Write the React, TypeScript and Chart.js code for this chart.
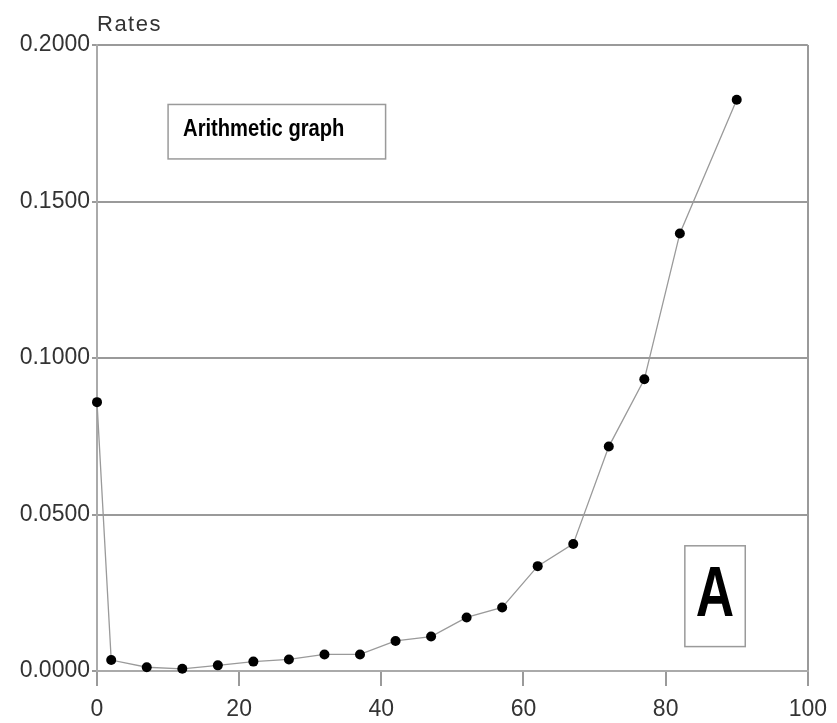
import React, { useEffect, useRef } from "react";
import { Chart, registerables } from "chart.js";

Chart.register(...registerables);

const ages = [0, 2, 7, 12, 17, 22, 27, 32, 37, 42, 47, 52, 57, 62, 67, 72, 77, 82, 90];
const rates = [
  0.0859, 0.0035, 0.0012, 0.0007, 0.0018, 0.003, 0.0037, 0.0053, 0.0053, 0.0096,
  0.011, 0.0171, 0.0203, 0.0335, 0.0406, 0.0717, 0.0932, 0.1398, 0.1825,
];
const xTicks = [0, 20, 40, 60, 80, 100];
const yTicks = [0, 0.05, 0.1, 0.15, 0.2];
const yAxisTitle = "Rates";
const noteText = "Arithmetic graph";
const panelLetter = "A";

const FONT = "'Liberation Sans', Arial, Helvetica, sans-serif";

const annotationPlugin = {
  id: "annotations",
  afterDraw(chart: any) {
    const { ctx, chartArea, scales } = chart;
    const xs = scales.x;
    const ys = scales.y;
    ctx.save();
    // Axis title
    ctx.fillStyle = "#333";
    ctx.font = `22px ${FONT}`;
    (ctx as any).letterSpacing = "1.5px";
    ctx.textAlign = "left";
    ctx.textBaseline = "middle";
    ctx.fillText(yAxisTitle, chartArea.left, 25);
    (ctx as any).letterSpacing = "0px";

    // Note box
    const bx1 = xs.getPixelForValue(10.0);
    const bx2 = xs.getPixelForValue(40.6);
    const by1 = ys.getPixelForValue(0.181);
    const by2 = ys.getPixelForValue(0.1636);
    ctx.fillStyle = "#fff";
    ctx.fillRect(bx1, by1, bx2 - bx1, by2 - by1);
    ctx.strokeStyle = "#9a9a9a";
    ctx.lineWidth = 1.5;
    ctx.strokeRect(bx1, by1, bx2 - bx1, by2 - by1);
    ctx.save();
    ctx.translate(bx1 + 15, (by1 + by2) / 2 - 2);
    ctx.scale(0.84, 1);
    ctx.fillStyle = "#000";
    ctx.font = `bold 24px ${FONT}`;
    ctx.textAlign = "left";
    ctx.textBaseline = "middle";
    ctx.fillText(noteText, 0, 0);
    ctx.restore();

    // Letter box
    const ax1 = xs.getPixelForValue(82.7);
    const ax2 = xs.getPixelForValue(91.2);
    const ay1 = ys.getPixelForValue(0.04);
    const ay2 = ys.getPixelForValue(0.0078);
    ctx.fillStyle = "#fff";
    ctx.fillRect(ax1, ay1, ax2 - ax1, ay2 - ay1);
    ctx.strokeRect(ax1, ay1, ax2 - ax1, ay2 - ay1);
    ctx.save();
    ctx.translate((ax1 + ax2) / 2, (ay1 + ay2) / 2 + 1);
    ctx.scale(0.76, 1);
    ctx.fillStyle = "#000";
    ctx.font = `bold 70px ${FONT}`;
    ctx.textAlign = "center";
    ctx.textBaseline = "middle";
    ctx.fillText(panelLetter, 0, 0);
    ctx.restore();
    ctx.restore();
  },
};

export default function App() {
  const ref = useRef<HTMLCanvasElement | null>(null);
  useEffect(() => {
    document.body.style.margin = "0";
    if (!ref.current) return;
    const chart = new Chart(ref.current, {
      type: "line",
      data: {
        datasets: [
          {
            data: ages.map((a, i) => ({ x: a, y: rates[i] })),
            borderColor: "#9a9a9a",
            borderWidth: 1.3,
            pointRadius: 5,
            pointBackgroundColor: "#000",
            pointBorderColor: "#000",
            pointBorderWidth: 0,
            tension: 0,
            clip: false,
          },
        ],
      },
      options: {
        animation: false,
        responsive: false,
        devicePixelRatio: 1,
        layout: { padding: { top: 45, right: 28, left: 0, bottom: 0 } },
        plugins: { legend: { display: false }, tooltip: { enabled: false } },
        scales: {
          x: {
            type: "linear",
            min: 0,
            max: 100,
            afterFit: (s: any) => {
              s.height = 52;
            },
            afterBuildTicks: (s: any) => {
              s.ticks = xTicks.map((v) => ({ value: v }));
            },
            ticks: {
              color: "#333",
              font: { family: FONT, size: 23 },
              padding: 10,
              maxRotation: 0,
            },
            grid: {
              drawOnChartArea: true,
              color: (c: any) => (c.tick && c.tick.value === 100 ? "#9a9a9a" : "rgba(0,0,0,0)"),
              tickColor: "#9a9a9a",
              tickLength: 15,
              lineWidth: 2,
            },
            border: { color: "#aaaaaa", width: 2 },
          },
          y: {
            type: "linear",
            min: 0,
            max: 0.2,
            afterFit: (s: any) => {
              s.width = 97;
            },
            afterBuildTicks: (s: any) => {
              s.ticks = yTicks.map((v) => ({ value: v }));
            },
            ticks: {
              color: "#333",
              font: { family: FONT, size: 23 },
              padding: 2,
              callback: (v: any) => Number(v).toFixed(4),
            },
            grid: {
              color: "#9a9a9a",
              tickColor: "#9a9a9a",
              tickLength: 5,
              lineWidth: 2,
            },
            border: { color: "#aaaaaa", width: 2 },
          },
        },
      },
      plugins: [annotationPlugin],
    });
    return () => chart.destroy();
  }, []);
  return (
    <div style={{ position: "absolute", left: 0, top: 0, width: 837, height: 723 }}>
      <canvas ref={ref} width={837} height={723} style={{ display: "block" }} />
    </div>
  );
}
